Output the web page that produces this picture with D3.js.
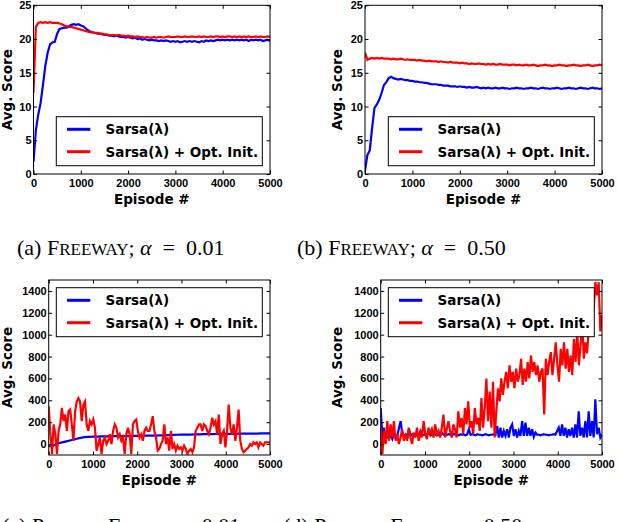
<!DOCTYPE html>
<html lang="en">
<head>
  <meta charset="UTF-8">
  <title>Sarsa vs optimistic init</title>
  <script src="https://d3js.org/d3.v7.min.js"></script>
  <style>
    body { margin: 0; background: #fff; }
    svg { font-family: "DejaVu Sans", sans-serif; }
    .tick-label { font-size: 11px; font-weight: bold; }
    .axis-title { font-size: 13.5px; font-weight: bold; }
    .legend-text { font-size: 13.5px; font-weight: bold; }
    .caption { font-family: "Liberation Serif", "DejaVu Serif", serif; font-size: 22px; }
  </style>
</head>
<body>
<svg id="chart" width="618" height="522"></svg>
<script>
// ---- data ----
const seriesNames = ["Sarsa(\u03bb)", "Sarsa(\u03bb) + Opt. Init."];
const seriesColors = ["#0000ff", "#ff0000"];
const xTicks = [0, 1000, 2000, 3000, 4000, 5000];
const freewayYTicks = [0, 5, 10, 15, 20, 25];
const eyeYTicks = [0, 200, 400, 600, 800, 1000, 1200, 1400];

// Freeway, alpha = 0.01 (every 50 episodes)
const freewayLowSarsa = [
  1.8, 6.5, 8.8, 10.5, 13.2, 16.0, 18.0, 19.2, 19.5, 19.6,
  20.8, 21.5, 21.6, 21.7, 21.7, 21.9, 22.1, 22.2, 22.1, 22.2,
  22.0, 21.9, 21.6, 21.3, 21.1, 21.0, 20.9, 20.8, 20.8, 20.7,
  20.6, 20.6, 20.5, 20.5, 20.4, 20.5, 20.4, 20.3, 20.3, 20.2,
  20.3, 20.2, 20.1, 20.2, 20.0, 20.1, 19.9, 20.0, 19.9, 19.8,
  19.9, 19.8, 19.8, 19.7, 19.8, 19.7, 19.8, 19.7, 19.6, 19.7,
  19.6, 19.7, 19.5, 19.6, 19.7, 19.6, 19.7, 19.6, 19.7, 19.6,
  19.5, 19.7, 19.6, 19.8, 19.7, 19.8, 19.7, 19.8, 19.9, 19.8,
  19.9, 19.8, 19.9, 19.8, 19.9, 19.8, 19.9, 19.8, 19.9, 19.8,
  19.9, 19.7, 19.9, 19.8, 19.9, 19.8, 19.9, 19.7, 19.8, 19.9,
  19.7
];
const freewayLowOpt = [
  12.0, 21.8, 22.4, 22.5, 22.4, 22.5, 22.4, 22.5, 22.4, 22.4,
  22.4, 22.3, 22.2, 22.0, 21.9, 21.8, 21.8, 21.7, 21.6, 21.5,
  21.4, 21.3, 21.2, 21.1, 21.0, 21.0, 20.9, 20.9, 20.8, 20.8,
  20.7, 20.7, 20.6, 20.6, 20.6, 20.5, 20.6, 20.5, 20.5, 20.4,
  20.5, 20.4, 20.4, 20.3, 20.4, 20.3, 20.3, 20.2, 20.3, 20.2,
  20.2, 20.3, 20.2, 20.3, 20.3, 20.2, 20.3, 20.4, 20.3, 20.3,
  20.3, 20.4, 20.3, 20.3, 20.4, 20.3, 20.3, 20.4, 20.3, 20.3,
  20.4, 20.3, 20.4, 20.3, 20.3, 20.4, 20.3, 20.4, 20.4, 20.3,
  20.4, 20.3, 20.4, 20.4, 20.3, 20.4, 20.3, 20.4, 20.3, 20.4,
  20.3, 20.4, 20.3, 20.3, 20.4, 20.3, 20.4, 20.3, 20.3, 20.4,
  20.3
];

// Freeway, alpha = 0.50 (every 50 episodes)
const freewayHighSarsa = [
  0.5, 2.8, 3.5, 6.8, 9.8, 10.3, 11.0, 12.0, 13.2, 13.6,
  14.2, 14.4, 14.2, 14.1, 14.0, 14.1, 14.0, 13.9, 13.9, 13.8,
  13.8, 13.7, 13.7, 13.6, 13.6, 13.5, 13.5, 13.4, 13.3, 13.3,
  13.3, 13.2, 13.2, 13.1, 13.1, 13.1, 13.0, 13.0, 13.0, 12.9,
  13.0, 12.9, 12.9, 12.8, 12.9, 12.8, 12.8, 12.9, 12.8, 12.7,
  12.8, 12.7, 12.8, 12.7, 12.7, 12.8, 12.7, 12.7, 12.8, 12.7,
  12.7, 12.6, 12.7, 12.7, 12.8, 12.7, 12.7, 12.6, 12.7, 12.7,
  12.8, 12.7, 12.7, 12.6, 12.7, 12.8, 12.7, 12.7, 12.6, 12.7,
  12.7, 12.8, 12.7, 12.6, 12.7, 12.7, 12.8, 12.7, 12.7, 12.6,
  12.7, 12.8, 12.7, 12.7, 12.6, 12.7, 12.8, 12.7, 12.7, 12.6,
  12.7
];
const freewayHighOpt = [
  18.0, 16.9, 17.1, 17.2, 17.1, 17.2, 17.1, 17.2, 17.1, 17.1,
  17.1, 17.0, 17.1, 17.0, 17.0, 17.1, 17.0, 16.9, 17.0, 16.9,
  16.9, 16.9, 16.8, 16.9, 16.8, 16.8, 16.7, 16.8, 16.7, 16.7,
  16.7, 16.6, 16.7, 16.6, 16.6, 16.5, 16.6, 16.5, 16.5, 16.5,
  16.4, 16.5, 16.4, 16.4, 16.3, 16.4, 16.3, 16.3, 16.4, 16.3,
  16.3, 16.2, 16.3, 16.2, 16.3, 16.2, 16.2, 16.3, 16.2, 16.2,
  16.2, 16.1, 16.2, 16.2, 16.1, 16.2, 16.1, 16.1, 16.2, 16.1,
  16.1, 16.2, 16.1, 16.0, 16.1, 16.1, 16.2, 16.1, 16.1, 16.0,
  16.1, 16.1, 16.2, 16.1, 16.1, 16.0, 16.1, 16.1, 16.2, 16.1,
  16.1, 16.0, 16.1, 16.1, 16.2, 16.1, 16.0, 16.1, 16.1, 16.2,
  16.1
];

// Private Eye, alpha = 0.01
const eyeLowSarsa = [ // every 100 episodes
  -20, -15, 5, 15, 25, 35, 45, 55, 63, 66,
  68, 68, 70, 70, 71, 72, 72, 73, 73, 74,
  75, 76, 77, 78, 78, 79, 80, 82, 84, 85,
  86, 87, 87, 88, 89, 90, 90, 91, 92, 93,
  93, 94, 94, 95, 95, 96, 96, 96, 97, 97,
  97
];
const eyeLowOpt = [ // evenly spaced over 0..5000
  346, 90, -90, 180, 90, -90, 120, 180, 330, 210, 270, 120, 300, 316, 180, 30, 300, 390, 420, 390,
  210, 360, 390, 180, 120, 210, 180, 225, 150, -60, 0, 60, -90, 30, 60, 0, 30, 90, 0, 120,
  180, 150, 60, 90, 30, 60, -90, 90, 150, 90, -90, 180, 210, 225, 120, 60, 90, 30, 120, 150,
  120, 120, 180, 255, 120, 60, -60, -45, 0, 30, 180, 0, 60, -60, 120, -45, 0, -60, -15, -45,
  -30, -60, -15, -45, -90, -60, -45, -75, -30, 120, 150, 180, 180, 120, 180, 165, 120, 90, 150, 240,
  180, 210, 90, 270, 0, 90, 120, -30, 120, 360, 150, 90, 180, 30, 150, 316, 30, -45, -75, -60,
  -45, -30, 0, -15, 15, 0, 15, -30, 15, 0, -15, 15, 15, 15, 15
];

// Private Eye, alpha = 0.50 (evenly spaced over 0..5000)
const eyeHighSarsa = [
  330, 60, 150, 30, 90, 60, 75, 45, 90, 60, 75, 150, 210, 90, 75, 90, 60, 135, 75, 90,
  85, 80, 95, 85, 120, 80, 85, 90, 85, 110, 80, 85, 95, 85, 80, 90, 85, 100, 85, 80,
  85, 90, 85, 80, 95, 85, 85, 80, 90, 85, 85, 80, 90, 135, 85, 90, 85, 80, 90, 85,
  85, 80, 85, 90, 85, 80, 85, 85, 90, 85, 165, 60, 150, 60, 120, 75, 135, 60, 150, 180,
  75, 135, 60, 120, 75, 210, 75, 195, 75, 150, 75, 135, 65, 105, 85, 85, 80, 85, 90, 85,
  85, 80, 85, 85, 90, 85, 120, 150, 75, 180, 75, 150, 60, 135, 75, 150, 60, 180, 60, 300,
  75, 150, 60, 210, 60, 300, 75, 210, 60, 410, 90, 150, 60, 90
];
const eyeHighOpt = [
  150, -90, 120, 0, 210, 30, 180, 60, 210, 30, 90, 0, 60, 135, 30, 90, 30, 150, 60, 0,
  105, 60, 150, 30, 105, 60, 210, 90, 45, 150, 90, 135, 60, 180, 90, 120, 60, 150, 270, 60,
  135, 210, 120, 60, 180, 135, 60, 300, 150, 240, 90, 330, 180, 390, 150, 210, 90, 330, 180, 240,
  120, 420, 150, 330, 600, 210, 480, 150, 570, 60, 300, 510, 390, 600, 450, 570, 660, 510, 720, 570,
  660, 510, 690, 570, 630, 780, 540, 690, 570, 750, 600, 810, 660, 750, 630, 720, 570, 660, 690, 270,
  780, 630, 750, 840, 630, 780, 930, 720, 570, 870, 720, 930, 690, 870, 660, 810, 630, 960, 750, 1030,
  720, 900, 1120, 780, 930, 830, 1060, 1150, 1180, 1240, 1480, 1360, 1480, 1030, 1180
];

// ---- drawing ----
const svg = d3.select("#chart");
const maxEpisode = 5000;

// spread a list of values evenly across the episode range
function toPoints(values) {
  const step = maxEpisode / (values.length - 1);
  return values.map((v, i) => ({ ep: i * step, v }));
}

function drawPanel(p, idx) {
  const x = d3.scaleLinear().domain([0, maxEpisode]).range([p.left, p.right]);
  const y = d3.scaleLinear().domain(p.yDomain).range([p.bottom, p.top]);
  const g = svg.append("g");

  const clipId = "clip" + idx;
  g.append("clipPath").attr("id", clipId)
    .append("rect")
    .attr("x", p.left).attr("y", p.top)
    .attr("width", p.right - p.left).attr("height", p.bottom - p.top);

  const line = d3.line().x(d => x(d.ep)).y(d => y(d.v));
  const plot = g.append("g").attr("clip-path", `url(#${clipId})`);
  p.series.forEach((vals, i) => {
    plot.append("path")
      .datum(toPoints(vals))
      .attr("d", line)
      .attr("fill", "none")
      .attr("stroke", seriesColors[i])
      .attr("stroke-width", 2.2)
      .attr("stroke-linejoin", "miter");
  });

  // inward ticks on all four sides (matplotlib classic)
  const tl = 3.5;
  const fmt = d3.format("d");
  const styleText = a => a.selectAll("text").attr("class", "tick-label")
    .attr("fill", "#000").attr("font-family", null).attr("font-size", null);
  g.append("g").attr("transform", `translate(0,${p.bottom})`)
    .call(d3.axisBottom(x).tickValues(xTicks).tickFormat(fmt).tickSizeInner(-tl).tickSizeOuter(0).tickPadding(5))
    .call(a => a.select(".domain").remove())
    .call(styleText);
  g.append("g").attr("transform", `translate(0,${p.top})`)
    .call(d3.axisTop(x).tickValues(xTicks).tickSizeInner(-tl).tickSizeOuter(0).tickFormat(""))
    .call(a => a.select(".domain").remove());
  g.append("g").attr("transform", `translate(${p.left},0)`)
    .call(d3.axisLeft(y).tickValues(p.yTicks).tickFormat(fmt).tickSizeInner(-tl).tickSizeOuter(0).tickPadding(2))
    .call(a => a.select(".domain").remove())
    .call(styleText);
  g.append("g").attr("transform", `translate(${p.right},0)`)
    .call(d3.axisRight(y).tickValues(p.yTicks).tickSizeInner(-tl).tickSizeOuter(0).tickFormat(""))
    .call(a => a.select(".domain").remove());
  g.selectAll(".tick line").attr("stroke", "#000");

  g.append("rect")
    .attr("x", p.left).attr("y", p.top)
    .attr("width", p.right - p.left).attr("height", p.bottom - p.top)
    .attr("fill", "none").attr("stroke", "#000").attr("stroke-width", 1);

  g.append("text").attr("class", "axis-title")
    .attr("x", (p.left + p.right) / 2).attr("y", p.bottom + 29.5)
    .attr("text-anchor", "middle").text("Episode #");
  g.append("text").attr("class", "axis-title")
    .attr("transform", `translate(${p.yTitleX},${(p.top + p.bottom) / 2}) rotate(-90)`)
    .attr("text-anchor", "middle").attr("dy", "0.35em").text("Avg. Score");

  // legend
  const lw = 206, lh = 49;
  const lx = p.right - 7.7 - lw;
  const ly = p.legendTop ? p.top + 7.7 : p.bottom - 8.3 - lh;
  const leg = g.append("g").attr("transform", `translate(${lx},${ly})`);
  leg.append("rect").attr("width", lw).attr("height", lh)
    .attr("fill", "#fff").attr("stroke", "#000").attr("stroke-width", 1);
  seriesNames.forEach((name, i) => {
    const ry = 12.6 + i * 22.4;
    leg.append("line").attr("x1", 10.7).attr("x2", 34).attr("y1", ry).attr("y2", ry)
      .attr("stroke", seriesColors[i]).attr("stroke-width", 3);
    leg.append("text").attr("class", "legend-text")
      .attr("x", 49.3).attr("y", ry).attr("dy", "0.36em").text(name);
  });
}

const panels = [
  { left: 33.5, right: 270, top: 5.3, bottom: 174, yDomain: [0, 25], yTicks: freewayYTicks,
    series: [freewayLowSarsa, freewayLowOpt], yTitleX: 7, legendTop: false },
  { left: 365, right: 602, top: 5.3, bottom: 174, yDomain: [0, 25], yTicks: freewayYTicks,
    series: [freewayHighSarsa, freewayHighOpt], yTitleX: 337, legendTop: false },
  { left: 48.7, right: 270, top: 280, bottom: 455, yDomain: [-100, 1500], yTicks: eyeYTicks,
    series: [eyeLowSarsa, eyeLowOpt], yTitleX: 7, legendTop: true },
  { left: 380.7, right: 602, top: 280, bottom: 455, yDomain: [-100, 1500], yTicks: eyeYTicks,
    series: [eyeHighSarsa, eyeHighOpt], yTitleX: 337, legendTop: true }
];
panels.forEach(drawPanel);

// captions (the bottom two run off the page edge, as in the source figure)
const captions = [
  { x: 17, y: 255, label: "(a) ", big: "F", small: "REEWAY", alpha: "0.01" },
  { x: 297, y: 255, label: "(b) ", big: "F", small: "REEWAY", alpha: "0.50" },
  { x: 2, y: 533, label: "(c) ", big: "P", small: "RIVATE", big2: "E", small2: "YE", alpha: "0.01" },
  { x: 283, y: 533, label: "(d) ", big: "P", small: "RIVATE", big2: "E", small2: "YE", alpha: "0.50" }
];
captions.forEach(c => {
  const t = svg.append("text").attr("class", "caption")
    .attr("x", c.x).attr("y", c.y);
  t.append("tspan").text(c.label + c.big);
  t.append("tspan").attr("font-size", 17).text(c.small);
  if (c.big2) {
    t.append("tspan").text(" " + c.big2);
    t.append("tspan").attr("font-size", 17).text(c.small2);
  }
  t.append("tspan").text("; ");
  t.append("tspan").attr("font-style", "italic").text("\u03b1");
  t.append("tspan").text("\u2002=\u2002" + c.alpha);
});
</script>
</body>
</html>
